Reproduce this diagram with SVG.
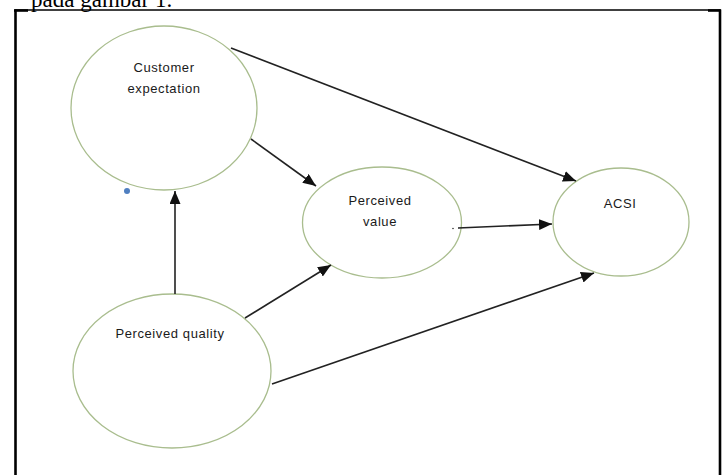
<svg xmlns="http://www.w3.org/2000/svg" width="727" height="475" viewBox="0 0 727 475">
<style>
.node ellipse{fill:#fff;stroke:#a9bd8e;stroke-width:1.3}
.lbl{font-family:"Liberation Sans",Arial,sans-serif;font-size:13px;fill:#1a1a1a;text-anchor:middle;letter-spacing:0.6px}
.conn line{stroke:#222;stroke-width:1.6}
</style>
<defs>
<marker id="ahb" viewBox="0 0 10 10" refX="10" refY="5" markerWidth="13" markerHeight="11" markerUnits="userSpaceOnUse" orient="auto" preserveAspectRatio="none">
<path d="M0,0 L10,5 L0,10 z" fill="#111"/>
</marker>
</defs>
<rect width="727" height="475" fill="#fff"/>
<text x="31" y="7" font-family="'Liberation Serif','Times New Roman',serif" font-size="23" fill="#000">pada gambar 1.</text>
<g id="frame" stroke="#000" fill="none">
<line x1="15" y1="10" x2="720" y2="10" stroke-width="1.6"/>
<line x1="14" y1="10.5" x2="28" y2="10.5" stroke-width="2.6"/>
<line x1="708" y1="10.5" x2="721" y2="10.5" stroke-width="2.6"/>
<line x1="15.5" y1="9.5" x2="15.5" y2="475" stroke-width="2.6"/>
<line x1="720" y1="9.5" x2="720" y2="475" stroke-width="2.6"/>
</g>
<g id="n-customer" class="node">
<ellipse cx="164" cy="108" rx="93" ry="82"/>
<text class="lbl" x="164" y="72">Customer</text>
<text class="lbl" x="164" y="93">expectation</text>
</g>
<circle cx="127" cy="191" r="3" fill="#4f7fc0"/>
<g id="n-value" class="node">
<ellipse cx="382" cy="222.5" rx="79.5" ry="55.5"/>
<text class="lbl" x="380" y="205">Perceived</text>
<text class="lbl" x="380" y="226">value</text>
</g>
<g id="n-acsi" class="node">
<ellipse cx="621" cy="222" rx="68" ry="54"/>
<text class="lbl" x="620" y="208">ACSI</text>
</g>
<g id="n-quality" class="node">
<ellipse cx="172" cy="371" rx="99" ry="77"/>
<text class="lbl" x="170" y="338">Perceived quality</text>
</g>
<circle cx="453" cy="228.5" r="0.8" fill="#333"/>
<g id="connectors" class="conn">
<line x1="231" y1="48" x2="576" y2="181" marker-end="url(#ahb)"/>
<line x1="251" y1="139" x2="316" y2="186" marker-end="url(#ahb)"/>
<line x1="175" y1="294" x2="175" y2="191" marker-end="url(#ahb)"/>
<line x1="245" y1="318" x2="331" y2="265" marker-end="url(#ahb)"/>
<line x1="458" y1="228" x2="552" y2="224" marker-end="url(#ahb)"/>
<line x1="272" y1="384" x2="594" y2="273" marker-end="url(#ahb)"/>
</g>
</svg>
